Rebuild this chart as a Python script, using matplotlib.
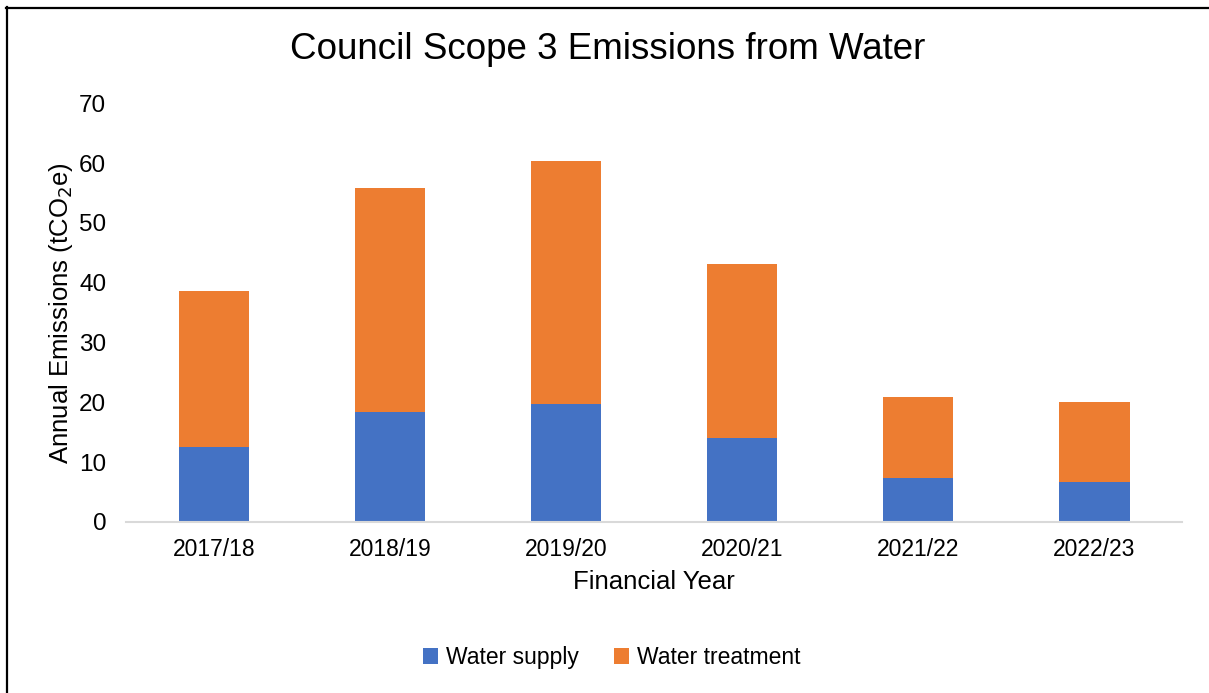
import numpy as np
import matplotlib.pyplot as plt
from matplotlib.lines import Line2D

years = ['2017/18', '2018/19', '2019/20', '2020/21', '2021/22', '2022/23']
water_supply = [12.5, 18.3, 19.7, 14.1, 7.4, 6.7]
water_treatment = [26.1, 37.55, 40.7, 29.1, 13.5, 13.4]

plt.rcParams['font.family'] = ['Liberation Sans', 'DejaVu Sans']

fig = plt.figure(figsize=(12.09, 6.93), dpi=100)
ax = fig.add_axes([0.104, 0.247, 0.874, 0.604])

x = np.arange(len(years))
ax.bar(x, water_supply, width=0.4, color='#4472C4', label='Water supply')
ax.bar(x, water_treatment, width=0.4, bottom=water_supply, color='#ED7D31', label='Water treatment')

ax.set_xlim(-0.5, len(years) - 0.5)
ax.set_ylim(0, 70)
ax.set_yticks(range(0, 71, 10))
ax.set_xticks(x)
ax.set_xticklabels(years)
ax.tick_params(axis='both', length=0, labelsize=16.5, colors='#000000')
ax.tick_params(axis='y', labelsize=17.5, pad=14)
ax.tick_params(axis='x', pad=12)
for s in ['top', 'right', 'left']:
    ax.spines[s].set_visible(False)
ax.spines['bottom'].set_color('#D9D9D9')
ax.spines['bottom'].set_linewidth(1.5)

ax.set_xlabel('Financial Year', fontsize=18.5, labelpad=6)
ax.set_ylabel('Annual Emissions (tCO$_2$e)', fontsize=18.5, labelpad=3)
fig.text(0.503, 0.928, 'Council Scope 3 Emissions from Water', fontsize=26.5,
         ha='center', va='center')

ax.legend(loc='center', bbox_to_anchor=(0.506, 0.051), bbox_transform=fig.transFigure,
          ncol=2, frameon=False, fontsize=16.5, handlelength=0.65, handleheight=0.65,
          handletextpad=0.35, columnspacing=1.5)

# outer frame (top and left edges visible)
fig.add_artist(Line2D([6 / 1209, 1208 / 1209], [1 - 7.5 / 693, 1 - 7.5 / 693],
                      transform=fig.transFigure, color='black', linewidth=1.6))
fig.add_artist(Line2D([7 / 1209, 7 / 1209], [0, 1 - 7 / 693],
                      transform=fig.transFigure, color='black', linewidth=1.6))

fig.savefig('out.png', dpi=100)
